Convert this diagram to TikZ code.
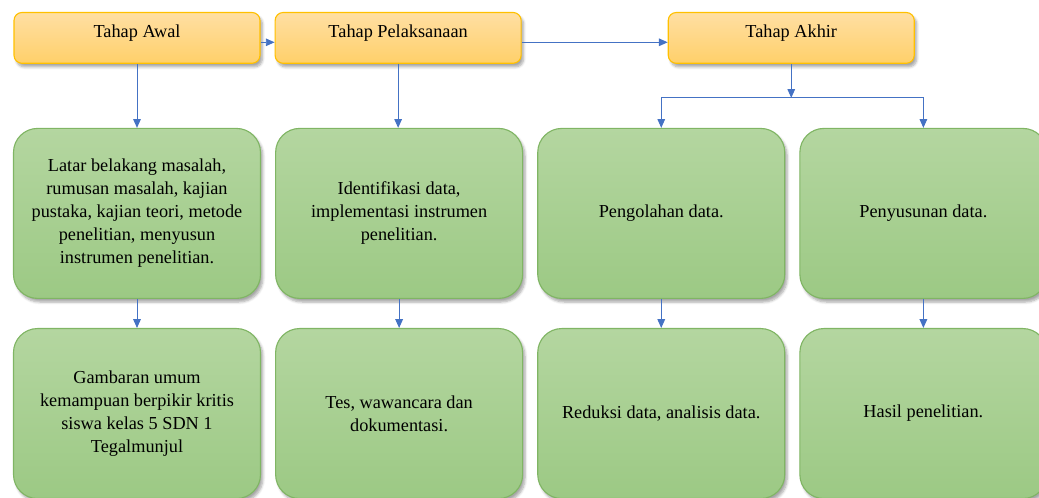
\documentclass[tikz,border=0pt]{standalone}
\usepackage{fontspec}
\setmainfont{Liberation Serif}
\usepackage{tikz}
\usetikzlibrary{positioning,arrows.meta,shadows.blur}
\definecolor{stageline}{HTML}{FFC000}
\definecolor{stagetop}{HTML}{FFDFA3}
\definecolor{stagebot}{HTML}{FFD06A}
\definecolor{boxline}{HTML}{80B564}
\definecolor{boxtop}{HTML}{B4D6A0}
\definecolor{boxbot}{HTML}{9CC984}
\definecolor{linkblue}{HTML}{4472C4}
\tikzset{basic/.style={font=\fontsize{13}{16.3}\selectfont,line width=0.8pt,blur shadow={shadow xshift=0.6mm,shadow yshift=-0.9mm,shadow opacity=35,shadow blur steps=6}}}
\tikzset{stage/.style={basic,draw=stageline,top color=stagetop,bottom color=stagebot,rounded corners=0.2cm,minimum width=6.15cm,inner ysep=0pt,text height=0.63cm,text depth=0.64cm}}
\tikzset{stepbox/.style={basic,draw=boxline,top color=boxtop,bottom color=boxbot,rounded corners=0.6cm,minimum width=6.175cm,minimum height=4.25cm,align=center}}
\tikzset{link/.style={draw=linkblue,line width=0.7pt,-{Triangle[length=2.2mm,width=1.9mm]}}}

\begin{document}
\begin{tikzpicture}
        \useasboundingbox (0,0) rectangle (25.975,-12.45);
        % tahapan
        \node[stage] (awal) at (3.425,-0.9475) {Tahap Awal};
        \node[stage,right=0.35cm of awal] (laksana) {Tahap Pelaksanaan};
        \node[stage,right=3.65cm of laksana] (akhir) {Tahap Akhir};
            \path[link] ([yshift=-0.11cm]awal.east) -- ([yshift=-0.11cm]laksana.west);
            \path[link] ([yshift=-0.11cm]laksana.east) -- ([yshift=-0.11cm]akhir.west);
        % baris pertama
        \node[stepbox,below=1.6cm of awal] (latar) {Latar belakang masalah,\\ rumusan masalah, kajian\\ pustaka, kajian teori, metode\\ penelitian, menyusun\\ instrumen penelitian.};
        \node[stepbox,right=0.35cm of latar] (identifikasi) {Identifikasi data,\\ implementasi instrumen\\ penelitian.};
        \node[stepbox,right=0.35cm of identifikasi] (olah) {Pengolahan data.};
        \node[stepbox,right=0.35cm of olah] (susun) {Penyusunan data.};
            \path[link] (awal) -- (latar);
            \path[link] (laksana) -- (laksana |- identifikasi.north);
        \coordinate[below=0.85cm of akhir] (cabang);
            \path[link] (akhir) -- (cabang);
            \path[link] (cabang) -| (olah);
            \path[link] (cabang) -| (susun);
        % baris kedua
        \node[stepbox,below=0.725cm of latar] (gambaran) {Gambaran umum\\ kemampuan berpikir kritis\\ siswa kelas 5 SDN 1\\ Tegalmunjul};
        \node[stepbox,below=0.725cm of identifikasi] (tes) {Tes, wawancara dan\\ dokumentasi.};
        \node[stepbox,below=0.725cm of olah] (reduksi) {Reduksi data, analisis data.};
        \node[stepbox,below=0.725cm of susun] (hasil) {Hasil penelitian.};
            \path[link] (latar) -- (gambaran);
            \path[link] (identifikasi) -- (tes);
            \path[link] (olah) -- (reduksi);
            \path[link] (susun) -- (hasil);
    \end{tikzpicture}
\end{document}
